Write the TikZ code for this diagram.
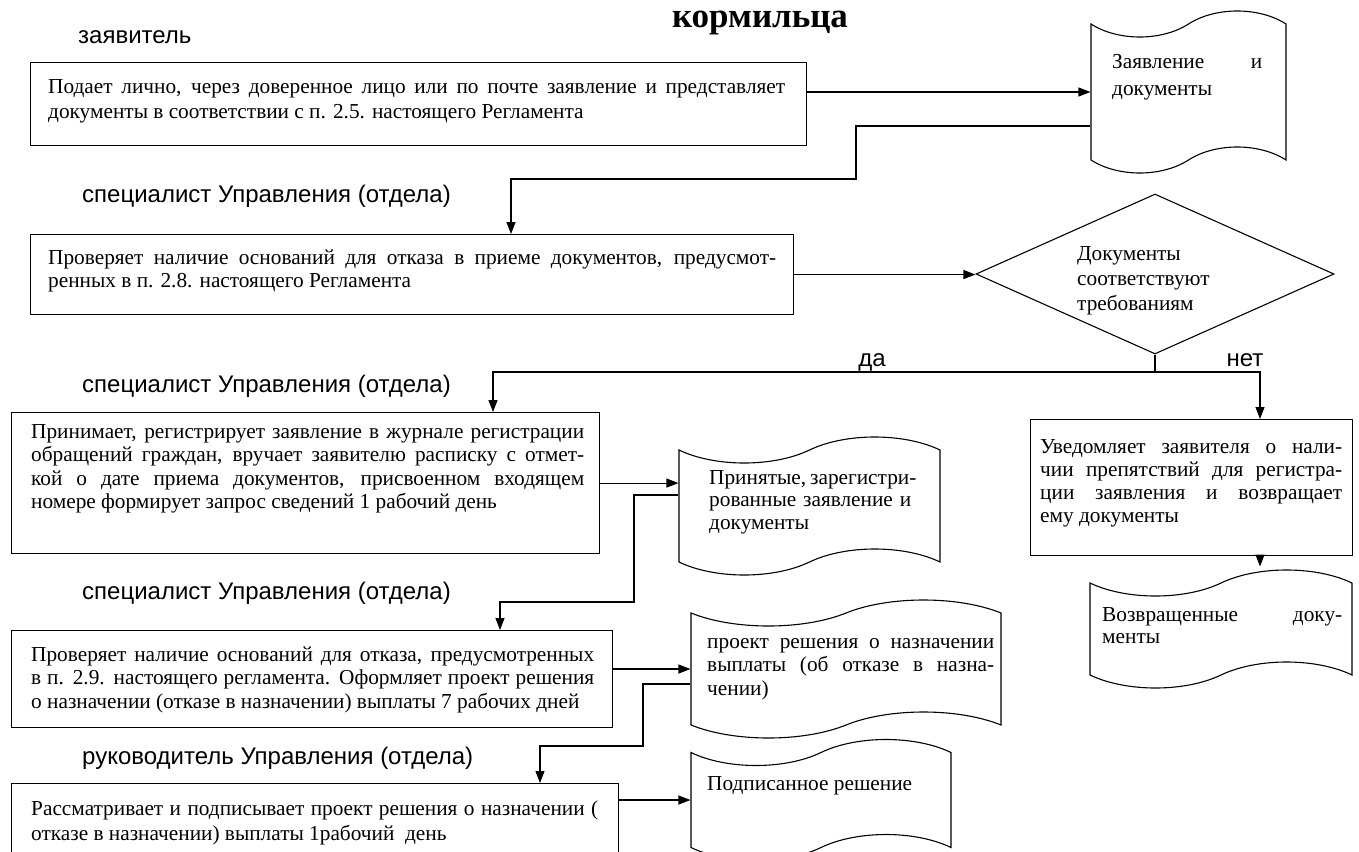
\documentclass[tikz,border=0pt]{standalone}
\usepackage{fontspec}
\setmainfont{Liberation Serif}
\setsansfont{Liberation Sans}
\usetikzlibrary{shapes.geometric, shapes.symbols}
\usetikzlibrary{arrows.meta}

\tikzset{
  blok/.style={draw, line width=1.1pt, inner sep=0pt, anchor=north west},
  dok/.style={tape, draw, line width=1.1pt, inner sep=0pt, tape bend height=26pt},
  tekst/.style={anchor=base west, inner sep=0pt, align=justify, font=\fontsize{21.3}{23}\selectfont},
  rol/.style={anchor=base west, inner sep=0pt, font=\sffamily\fontsize{24}{28}\selectfont},
  strelka/.style={-{Triangle[length=12pt,width=9pt]}, line width=1.1pt},
  liniya/.style={line width=1.1pt},
}
\newcommand{\jl}[1]{\makebox[\hsize][s]{#1}}

\begin{document}
\begin{tikzpicture}[x=1pt, y=-1pt]
  \pgfmathsetmacro{\Yrazv}{372}
  \useasboundingbox (0,0) rectangle (1359,851);
  \clip (0,0) rectangle (1359,851);

  \node[anchor=base, inner sep=0pt, font=\bfseries\fontsize{35}{40}\selectfont] (zagolovok) at (760,28) {кормильца};

  % roles
  \node[rol] (zayavitel) at (78,44) {заявитель};
  \node[rol] (spec1) at (82,202) {специалист Управления (отдела)};
  \node[rol] (spec2) at (82,392) {специалист Управления (отдела)};
  \node[rol] (spec3) at (82,599) {специалист Управления (отдела)};
  \node[rol] (ruk) at (82,764) {руководитель Управления (отдела)};

  % boxes
  \node[blok, minimum width=776pt, minimum height=83pt] (podacha) at (30,62) {};
  \node[tekst, text width=737pt, font=\fontsize{21.3}{25}\selectfont] (t-podacha) at (48,93)
    {\jl{Подает лично, через доверенное лицо или по почте заявление и представляет}\\
     документы в соответствии с п. 2.5. настоящего Регламента};

  \node[blok, minimum width=763pt, minimum height=80pt] (proverka) at (30,234) {};
  \node[tekst, text width=728pt] (t-proverka) at (48,264)
    {\jl{Проверяет наличие оснований для отказа в приеме документов, предусмот-}\\
     ренных в п. 2.8. настоящего Регламента};

  \node[blok, minimum width=588pt, minimum height=141pt] (priem) at (11,412) {};
  \node[tekst, text width=553pt, font=\fontsize{21.3}{23.5}\selectfont] (t-priem) at (31,438)
    {\jl{Принимает, регистрирует заявление в журнале регистрации}\\
     \jl{обращений граждан, вручает заявителю расписку с отмет-}\\
     \jl{кой о дате приема документов, присвоенном входящем}\\
     номере формирует запрос сведений 1 рабочий день};

  \node[blok, minimum width=322pt, minimum height=136pt] (uvedom) at (1030,419) {};
  \node[tekst, text width=302pt, font=\fontsize{21.3}{23}\selectfont] (t-uvedom) at (1040,453)
    {\jl{Уведомляет заявителя о нали-}\\
     \jl{чии препятствий для регистра-}\\
     \jl{ции заявления и возвращает}\\
     ему документы};

  \node[blok, minimum width=601pt, minimum height=97pt] (proekt) at (11,630) {};
  \node[tekst, text width=563pt, font=\fontsize{21.3}{23.5}\selectfont] (t-proekt) at (31,661)
    {\jl{Проверяет наличие оснований для отказа, предусмотренных}\\
     \jl{в п. 2.9. настоящего регламента. Оформляет проект решения}\\
     о назначении (отказе в назначении) выплаты 7 рабочих дней};

  \node[blok, minimum width=607pt, minimum height=90pt] (podpis) at (11,783) {};
  \node[tekst, text width=567pt, font=\fontsize{21.3}{25}\selectfont] (t-podpis) at (31,815)
    {\jl{Рассматривает и подписывает проект решения о назначении (}\\
     отказе в назначении) выплаты 1рабочий\ \ день};

  % documents
  \node[dok, minimum width=195pt, minimum height=162pt] (zayavl) at (1188.5,92) {};
  \node[tekst, text width=150pt, font=\fontsize{21.3}{27}\selectfont] (t-zayavl) at (1112,68)
    {\jl{Заявление и}\\документы};

  \node[dok, minimum width=261pt, minimum height=138pt] (prinyat) at (809.5,506) {};
  \node[tekst, text width=202pt, font=\fontsize{21.3}{22.5}\selectfont] (t-prinyat) at (709,484)
    {\jl{Принятые, зарегистри-}\\\jl{рованные заявление и}\\документы};

  \node[dok, minimum width=262pt, minimum height=118pt] (vozvrat) at (1221,629) {};
  \node[tekst, text width=240pt, font=\fontsize{21.3}{22}\selectfont] (t-vozvrat) at (1102,621)
    {\jl{Возвращенные доку-}\\менты};

  \node[dok, minimum width=310pt, minimum height=138pt] (reshenie) at (846,669) {};
  \node[tekst, text width=287pt, font=\fontsize{21.3}{23.5}\selectfont] (t-reshenie) at (707,648)
    {\jl{проект решения о назначении}\\\jl{выплаты (об отказе в назна-}\\чении)};

  \node[dok, minimum width=260pt, minimum height=121pt] (podpisano) at (821,800) {};
  \node[tekst, text width=230pt] (t-podpisano) at (707,790) {Подписанное решение};

  % decision
  \node[diamond, draw, line width=1.1pt, inner sep=0pt, minimum width=358pt, minimum height=160pt] (sootv) at (1155,274) {};
  \node[tekst, text width=150pt, font=\fontsize{21.3}{25}\selectfont] (t-sootv) at (1077,260)
    {Документы\\соответствуют\\требованиям};
  \node[rol, anchor=base] (da) at (872,366) {да};
  \node[rol, anchor=base] (net) at (1245,366) {нет};

  % connectors
  \coordinate (k1) at (856,179);
  \coordinate (k2) at (511,179);
  \coordinate (vda) at (493,\Yrazv);
  \coordinate (vnet) at (1260,\Yrazv);
  \coordinate (k3) at (634,602);
  \coordinate (k4) at (500,602);
  \coordinate (k5) at (643,746);
  \coordinate (k6) at (540,746);

  \draw[strelka] (podacha.east |- zayavl.west) -- (zayavl.west);
  \draw[strelka] ([yshift=-34pt]zayavl.west) -| (k1) -- (k2) -- (k2 |- proverka.north);
  \draw[strelka] (proverka.east) -- (proverka.east -| sootv.west);
  \draw[liniya] (sootv.south) -- (sootv.south |- vda);
  \draw[strelka] (sootv.south |- vda) -- (vda) -- (vda |- priem.north);
  \draw[strelka] (sootv.south |- vda) -- (vnet) -- (vnet |- uvedom.north);
  \draw[strelka] (priem.east) -- (priem.east -| prinyat.west);
  \draw[strelka] ([yshift=11pt]prinyat.west) -| (k3) -- (k4) -- (k4 |- proekt.north);
  \draw[strelka] (vnet |- uvedom.south) -- ([yshift=16pt]vnet |- vozvrat.north);
  \draw[strelka] (proekt.east |- reshenie.west) -- (reshenie.west);
  \draw[strelka] ([yshift=-15pt]reshenie.west) -| (k5) -- (k6) -- (k6 |- podpis.north);
  \draw[strelka] (podpis.east |- podpisano.west) -- (podpisano.west);
\end{tikzpicture}
\end{document}
